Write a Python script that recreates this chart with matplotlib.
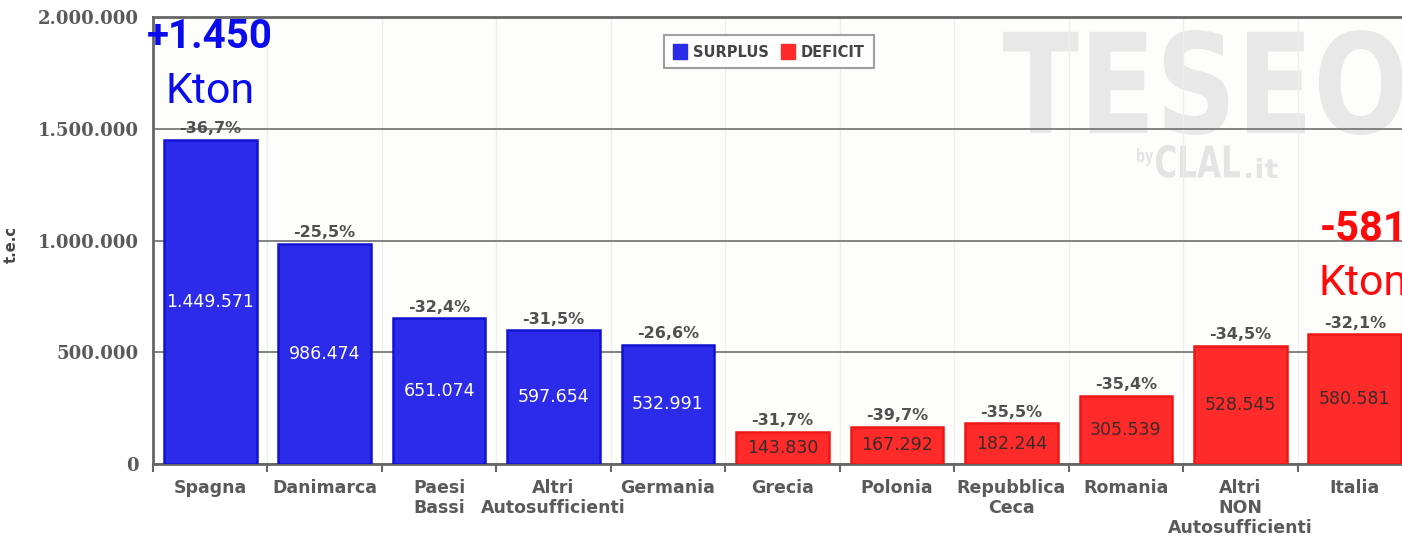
import numpy as np
import matplotlib
matplotlib.use("Agg")
import matplotlib.pyplot as plt
from matplotlib.patches import Patch, PathPatch
from matplotlib.textpath import TextPath
from matplotlib.font_manager import FontProperties
from matplotlib.transforms import Affine2D

paesi = ["Spagna", "Danimarca", "Paesi\nBassi", "Altri\nAutosufficienti", "Germania",
         "Grecia", "Polonia", "Repubblica\nCeca", "Romania",
         "Altri\nNON\nAutosufficienti", "Italia"]
valori = [1449571, 986474, 651074, 597654, 532991,
          143830, 167292, 182244, 305539, 528545, 580581]
variazioni = ["-36,7%", "-25,5%", "-32,4%", "-31,5%", "-26,6%",
              "-31,7%", "-39,7%", "-35,5%", "-35,4%", "-34,5%", "-32,1%"]
tipo = ["SURPLUS"] * 5 + ["DEFICIT"] * 6
yticks = [0, 500000, 1000000, 1500000, 2000000]

colori = {"SURPLUS": "#2b2be9", "DEFICIT": "#ff2a2a"}
bordi = {"SURPLUS": "#1212d2", "DEFICIT": "#ee1515"}
testo_in = {"SURPLUS": "white", "DEFICIT": "#3a2a2a"}

def fmt(v):
    return f"{v:,}".replace(",", ".")

fig = plt.figure(figsize=(14.02, 5.37), dpi=100)
W, H = 1402, 537
ax = fig.add_axes([153 / W, (H - 464) / H, (1412 - 153) / W, (464 - 17) / H])
ax.set_facecolor("#fdfdfc")

# watermark "TESEO by CLAL.it", testo compresso in orizzontale
def marchio(testo, x0, y0, w, h, colore):
    tp = TextPath((0, 0), testo, size=1,
                  prop=FontProperties(family="DejaVu Sans", weight="bold"))
    e = tp.get_extents()
    tr = (Affine2D().translate(-e.x0, -e.y0)
          .scale(w / e.width / 100, h / e.height / 100)
          .translate(x0 / 100, (H - y0) / 100) + fig.dpi_scale_trans)
    ax.add_patch(PathPatch(tp, transform=tr, facecolor=colore, edgecolor="none", zorder=0.5))

marchio("TESEO", 1003, 135, 400, 105, "#e8e8e8")
marchio("by", 1137, 166, 16, 18, "#e4e4e4")
marchio("CLAL", 1156, 178, 84, 33, "#e4e4e4")
marchio(".it", 1246, 178, 32, 20, "#e4e4e4")

x = np.arange(len(paesi))
ax.bar(x, valori, width=0.81, color=[colori[t] for t in tipo],
       edgecolor=[bordi[t] for t in tipo], linewidth=1.8, zorder=3)

for i, v in enumerate(valori):
    ax.text(i, v / 2, fmt(v), ha="center", va="center", fontsize=12.5,
            color=testo_in[tipo[i]], zorder=4)
    ax.annotate(variazioni[i], (i, v), xytext=(0, 8), textcoords="offset points",
                ha="center", va="center", fontsize=11.5, fontweight="bold",
                color="#505050", zorder=4)

ax.set_xlim(-0.5, len(paesi) - 0.5)
ax.set_ylim(0, 2000000)
ax.set_yticks(yticks)
ax.set_yticklabels([fmt(t) for t in yticks], fontsize=13, fontweight="bold",
                   family="DejaVu Serif", color="#5a5a5a")
ax.set_xticks(x)
ax.set_xticklabels(paesi, fontsize=12.5, fontweight="bold", color="#5a5a5a",
                   linespacing=1.15)
ax.set_xticks(np.arange(-0.5, len(paesi), 1), minor=True)
ax.tick_params(axis="x", which="major", length=0, pad=11)
ax.tick_params(axis="x", which="minor", length=6, width=1.5, color="#666666")
ax.tick_params(axis="y", length=0, pad=10)

ax.grid(axis="y", which="major", color="#7a7a7a", linewidth=1.3, zorder=1)
ax.grid(axis="x", which="minor", color="#eeeeee", linewidth=1, zorder=1)
ax.set_axisbelow(True)
for s in ax.spines.values():
    s.set_color("#666666")
    s.set_linewidth(2)

ax.set_ylabel("t.e.c", fontsize=10.5, fontweight="bold", color="#444444")
ax.yaxis.set_label_coords(-0.107, 0.49)

leg = ax.legend(handles=[Patch(facecolor=colori["SURPLUS"], edgecolor=colori["SURPLUS"], label="SURPLUS"),
                         Patch(facecolor=colori["DEFICIT"], edgecolor=colori["DEFICIT"], label="DEFICIT")],
                loc="upper left", bbox_to_anchor=(0.400, 0.975), ncol=2, fancybox=False,
                frameon=True, handlelength=1.0, handleheight=1.2, handletextpad=0.4,
                columnspacing=0.8, borderpad=0.6,
                prop={"weight": "bold", "size": 10.5})
leg.get_frame().set_edgecolor("#888888")
leg.get_frame().set_linewidth(1.5)
for t in leg.get_texts():
    t.set_color("#444444")

# totali in evidenza (il totale del deficit esce dal bordo destro come nell'originale)
surplus = "+" + fmt(round(valori[0] / 1000))
deficit = "-" + fmt(round(valori[-1] / 1000))
ax.text(0, 1910000, surplus, ha="center", va="center", fontsize=29, fontweight="bold",
        family="Roboto", color="#0a0aee", zorder=5)
ax.text(0, 1668000, "Kton", ha="center", va="center", fontsize=31,
        family="Roboto", color="#0a0aee", zorder=5)
ax.text(len(paesi) - 1.31, 1047000, deficit, ha="left", va="center", fontsize=30,
        fontweight="bold", family="Roboto", color="#ff0a0a", zorder=5, clip_on=False)
ax.text(len(paesi) - 1.32, 808000, "Kton", ha="left", va="center", fontsize=31,
        family="Roboto", color="#ff0a0a", zorder=5, clip_on=False)

fig.savefig("out.png", dpi=100)
